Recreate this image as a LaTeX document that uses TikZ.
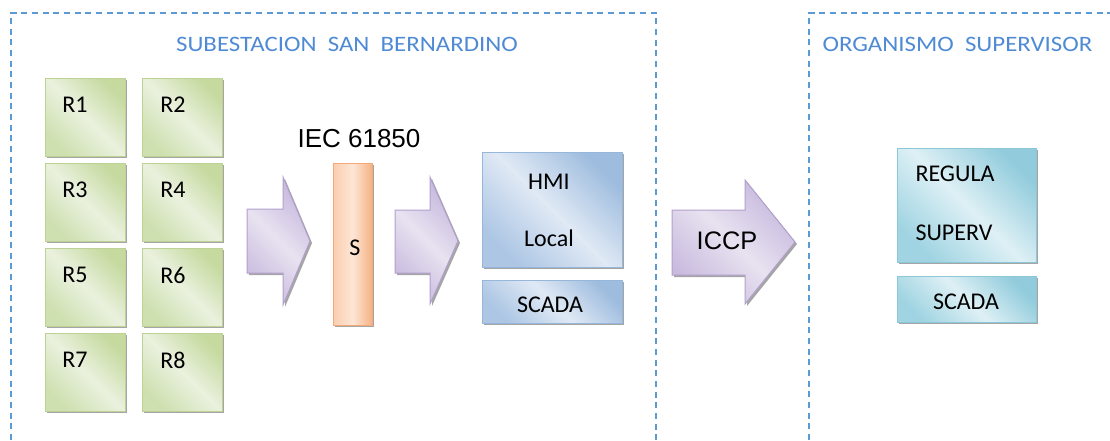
\documentclass[tikz,border=0pt]{standalone}
\usepackage{fontspec}
\setmainfont{Carlito}
\newfontfamily\arialfont{Liberation Sans}
\usetikzlibrary{shadows}

\definecolor{lineablue}{RGB}{91,155,213}
\definecolor{tituloblue}{RGB}{79,138,212}

\tikzset{every picture/.style={line width=0.75pt}}
\tikzset{
  sombra/.style={drop shadow={shadow xshift=1.5pt,shadow yshift=-1.5pt,opacity=0.5,fill=black!70}},
  relay/.style={draw={rgb, 255:red, 190; green, 210; blue, 150}, sombra, top color={rgb, 255:red, 198; green, 218; blue, 160}, bottom color={rgb, 255:red, 206; green, 224; blue, 176}, middle color={rgb, 255:red, 234; green, 241; blue, 222}, shading angle=315},
  flecha/.style={draw={rgb, 255:red, 178; green, 160; blue, 205}, sombra, top color={rgb, 255:red, 198; green, 184; blue, 222}, bottom color={rgb, 255:red, 200; green, 186; blue, 222}, middle color={rgb, 255:red, 232; green, 226; blue, 240}, shading angle=315},
  switchbar/.style={draw={rgb, 255:red, 245; green, 168; blue, 120}, sombra, left color={rgb, 255:red, 250; green, 205; blue, 175}, right color={rgb, 255:red, 246; green, 178; blue, 132}, middle color={rgb, 255:red, 253; green, 230; blue, 214}},
  hmibox/.style={draw={rgb, 255:red, 150; green, 182; blue, 218}, sombra, top color={rgb, 255:red, 158; green, 188; blue, 222}, bottom color={rgb, 255:red, 172; green, 198; blue, 228}, middle color={rgb, 255:red, 224; green, 233; blue, 245}, shading angle=315},
  supbox/.style={draw={rgb, 255:red, 140; green, 200; blue, 215}, sombra, top color={rgb, 255:red, 146; green, 204; blue, 220}, bottom color={rgb, 255:red, 160; green, 212; blue, 226}, middle color={rgb, 255:red, 222; green, 240; blue, 245}, shading angle=315},
  zona/.style={draw=lineablue, line width=1.5pt, dash pattern=on 4.5pt off 3.5pt},
  txt/.style={inner sep=0pt, font=\fontsize{18}{20}\selectfont},
  titulo/.style={inner sep=0pt, text=tituloblue, font=\fontsize{16.5}{18}\selectfont, xscale=1.13},
}

\begin{document}
\begin{tikzpicture}[x=0.75pt,y=0.75pt,yscale=-1,xscale=1]
        \useasboundingbox (0,0) rectangle (1110,440);

        %Shape: Dashed zones
        \draw [zona] (11,440) -- (11,13) -- (656,13) -- (656,440) ;
        \draw [zona] (809,440) -- (809,13) -- (1110,13) ;

        % Text Node
        \node [titulo] (subest) at (347,44) {SUBESTACION\ \ SAN\ \ BERNARDINO};
        % Text Node
        \node [titulo, anchor=west] (organismo) at (822,44) {ORGANISMO\ \ SUPERVISOR};

        %Shape: Rectangle (relays)
        \draw [relay] (45,78) rectangle (125,156) ;
        \draw [relay] (142,78) rectangle (222,156) ;
        \draw [relay] (45,163) rectangle (125,241) ;
        \draw [relay] (142,163) rectangle (222,241) ;
        \draw [relay] (45,248) rectangle (125,326) ;
        \draw [relay] (142,248) rectangle (222,326) ;
        \draw [relay] (45,333) rectangle (125,411) ;
        \draw [relay] (142,333) rectangle (222,411) ;
        % Text Node
        \node [txt] (r1) at (75,105) {R1};
        \node [txt] (r2) at (173,105) {R2};
        \node [txt] (r3) at (75,190) {R3};
        \node [txt] (r4) at (173,190) {R4};
        \node [txt] (r5) at (75,275) {R5};
        \node [txt] (r6) at (173,275) {R6};
        \node [txt] (r7) at (75,360) {R7};
        \node [txt] (r8) at (173,360) {R8};

        %Shape: Right Arrow
        \draw [flecha] (247,209) -- (283,209) -- (283,177) -- (310,241) -- (283,305) -- (283,273) -- (247,273) -- cycle ;
        %Shape: Rectangle (switch)
        \draw [switchbar] (333,163) rectangle (372,325) ;
        % Text Node
        \node [txt] (s) at (355,248) {S};
        % Text Node
        \node [inner sep=0pt, font=\arialfont\fontsize{19.5}{22}\selectfont] (iec) at (359,139) {IEC 61850};

        %Shape: Right Arrow
        \draw [flecha] (395,210) -- (430,210) -- (430,177) -- (458,241) -- (430,304) -- (430,273) -- (395,273) -- cycle ;

        %Shape: Rectangle (HMI)
        \draw [hmibox] (482,152) rectangle (622,267) ;
        \draw [hmibox] (482,280) rectangle (622,323) ;
        % Text Node
        \node [txt] (hmi) at (549,182) {HMI};
        \node [txt] (local) at (549,238) {Local};
        \node [txt] (scada1) at (550,305) {SCADA};

        %Shape: Right Arrow
        \draw [flecha] (672,210) -- (745,210) -- (745,180) -- (795,242) -- (745,304) -- (745,275) -- (672,275) -- cycle ;
        % Text Node
        \node [inner sep=0pt, font=\arialfont\fontsize{19}{22}\selectfont] (iccp) at (727,241) {ICCP};

        %Shape: Rectangle (supervisor)
        \draw [supbox] (897,148) rectangle (1036,262) ;
        \draw [supbox] (897,276) rectangle (1036,322) ;
        % Text Node
        \node [txt, anchor=west] (regula) at (915,174) {REGULA};
        \node [txt, anchor=west] (superv) at (915,233) {SUPERV};
        \node [txt] (scada2) at (966,302) {SCADA};
\end{tikzpicture}
\end{document}
